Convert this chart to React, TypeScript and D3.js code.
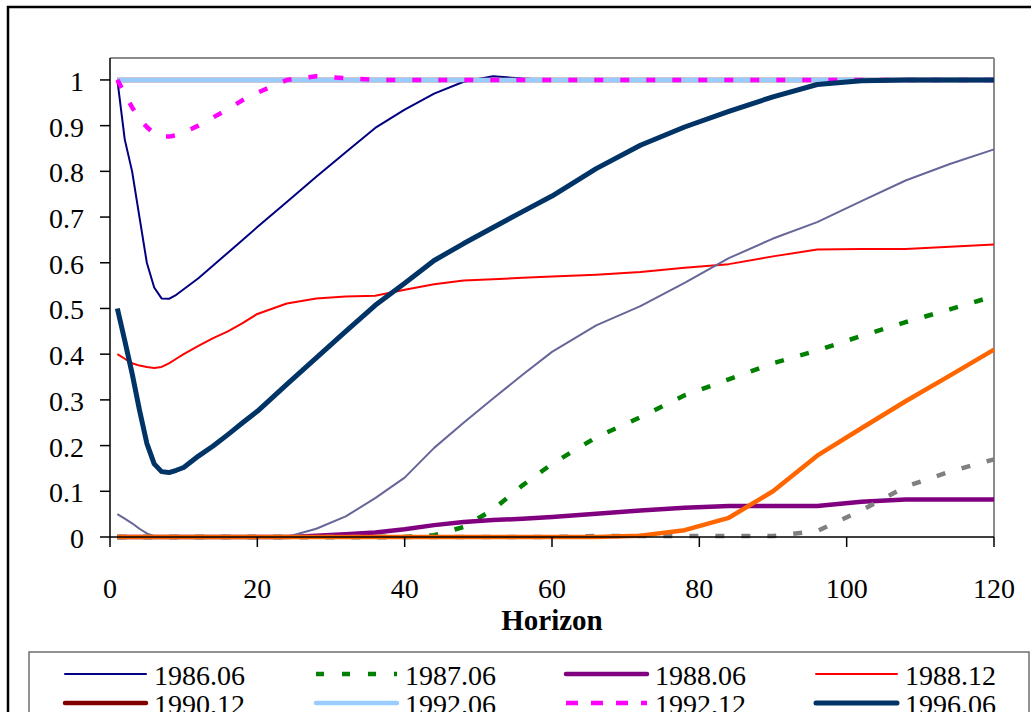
import React from "react";
import * as d3 from "d3";

// Forecast horizons (months) at which each series is sampled
const horizons = [1, 2, 3, 4, 5, 6, 7, 8, 9, 10, 12, 14, 16, 18, 20, 24, 28, 32, 36, 40, 44, 48, 52, 56, 60, 66, 72, 78, 84, 90, 96, 102, 108, 114, 120];

const s198606 = [1.0, 0.87, 0.8, 0.7, 0.6, 0.546, 0.522, 0.521, 0.53, 0.542, 0.566, 0.594, 0.622, 0.65, 0.678, 0.733, 0.788, 0.842, 0.895, 0.935, 0.97, 0.996, 1.008, 1.003, 1, 1, 1, 1, 1, 1, 1, 1, 1, 1, 1];
const s198706 = [0, 0, 0, 0, 0, 0, 0, 0, 0, 0, 0, 0, 0, 0, 0, 0, 0, 0, 0, 0, 0.004, 0.022, 0.06, 0.113, 0.16, 0.218, 0.262, 0.31, 0.345, 0.38, 0.408, 0.44, 0.47, 0.498, 0.527];
const s198806 = [0, 0, 0, 0, 0, 0, 0, 0, 0, 0, 0, 0, 0, 0, 0, 0, 0.003, 0.006, 0.01, 0.017, 0.026, 0.033, 0.037, 0.04, 0.044, 0.051, 0.058, 0.064, 0.068, 0.068, 0.068, 0.077, 0.082, 0.082, 0.082];
const s198812 = [0.4, 0.39, 0.38, 0.375, 0.372, 0.37, 0.372, 0.38, 0.39, 0.4, 0.418, 0.435, 0.45, 0.468, 0.488, 0.511, 0.522, 0.526, 0.528, 0.541, 0.553, 0.561, 0.564, 0.567, 0.57, 0.574, 0.58, 0.589, 0.597, 0.614, 0.629, 0.63, 0.63, 0.635, 0.64];
const s199012 = [1, 1, 1, 1, 1, 1, 1, 1, 1, 1, 1, 1, 1, 1, 1, 1, 1, 1, 1, 1, 1, 1, 1, 1, 1, 1, 1, 1, 1, 1, 1, 1, 1, 1, 1];
const s199206 = [1, 1, 1, 1, 1, 1, 1, 1, 1, 1, 1, 1, 1, 1, 1, 1, 1, 1, 1, 1, 1, 1, 1, 1, 1, 1, 1, 1, 1, 1, 1, 1, 1, 1, 1];
const s199212 = [1.0, 0.97, 0.94, 0.915, 0.897, 0.883, 0.876, 0.876, 0.879, 0.885, 0.9, 0.918, 0.936, 0.956, 0.972, 1.0, 1.008, 1.004, 1.0, 1, 1, 1, 1, 1, 1, 1, 1, 1, 1, 1, 1, 1, 1, 1, 1];
const s199606 = [0.5, 0.43, 0.358, 0.278, 0.205, 0.16, 0.143, 0.141, 0.146, 0.152, 0.177, 0.199, 0.224, 0.25, 0.275, 0.334, 0.392, 0.45, 0.507, 0.555, 0.605, 0.642, 0.677, 0.712, 0.746, 0.806, 0.857, 0.897, 0.931, 0.963, 0.99, 0.998, 1, 1, 1];
const sSlate = [0.05, 0.04, 0.03, 0.018, 0.008, 0.002, 0, 0, 0, 0, 0, 0, 0, 0, 0, 0, 0.018, 0.045, 0.085, 0.13, 0.195, 0.25, 0.303, 0.355, 0.405, 0.463, 0.505, 0.556, 0.61, 0.653, 0.689, 0.735, 0.78, 0.816, 0.848];
const sGrey = [0, 0, 0, 0, 0, 0, 0, 0, 0, 0, 0, 0, 0, 0, 0, 0, 0, 0, 0, 0, 0, 0, 0, 0, 0, 0.002, 0.002, 0.002, 0.002, 0.002, 0.013, 0.058, 0.11, 0.143, 0.17];
const sOrange = [0, 0, 0, 0, 0, 0, 0, 0, 0, 0, 0, 0, 0, 0, 0, 0, 0, 0, 0, 0, 0, 0, 0, 0, 0, 0, 0.003, 0.015, 0.042, 0.1, 0.178, 0.238, 0.297, 0.353, 0.41];

const xTickValues = [0, 20, 40, 60, 80, 100, 120];
const yTickValues = [0, 0.1, 0.2, 0.3, 0.4, 0.5, 0.6, 0.7, 0.8, 0.9, 1];
const yTickLabels = ["0", "0.1", "0.2", "0.3", "0.4", "0.5", "0.6", "0.7", "0.8", "0.9", "1"];

type Series = { name: string; values: number[]; color: string; width: number; dash?: string; legendDash?: string; inLegend: boolean };

const series: Series[] = [
  { name: "1986.06", values: s198606, color: "#000080", width: 2, inLegend: true },
  { name: "1987.06", values: s198706, color: "#008000", width: 4.5, dash: "9,17", legendDash: "8,18", inLegend: true },
  { name: "1988.06", values: s198806, color: "#800080", width: 4.5, inLegend: true },
  { name: "1988.12", values: s198812, color: "#ff0000", width: 2, inLegend: true },
  { name: "1990.12", values: s199012, color: "#800000", width: 4.5, inLegend: true },
  { name: "1992.06", values: s199206, color: "#99ccff", width: 4.5, inLegend: true },
  { name: "1992.12", values: s199212, color: "#ff00ff", width: 4.5, dash: "9,17", legendDash: "12,13", inLegend: true },
  { name: "1996.06", values: s199606, color: "#003366", width: 5, inLegend: true },
  { name: "slate", values: sSlate, color: "#666699", width: 2, inLegend: false },
  { name: "grey", values: sGrey, color: "#808080", width: 4.5, dash: "9,17", inLegend: false },
  { name: "orange", values: sOrange, color: "#ff6600", width: 4.5, inLegend: false },
];

const FONT = "'Liberation Serif', 'Times New Roman', serif";

export default function App() {
  const W = 1031;
  const H = 712;
  const left = 110;
  const right = 994;
  const top = 58;
  const bottom = 537;

  const x = d3.scaleLinear().domain([0, 120]).range([left, right]);
  const y = d3.scaleLinear().domain([0, 1.048]).range([bottom, top]);

  const line = d3
    .line<number>()
    .x((_, i) => x(horizons[i]))
    .y((v) => y(v))
    .curve(d3.curveLinear);

  const legendItems = series.filter((s) => s.inLegend);
  const colX = [65, 316, 566, 816];
  const rowY = [674, 703];

  return (
    <svg width={W} height={H} style={{ position: "absolute", left: 0, top: 0, background: "#fff" }}>
      <rect x={0} y={0} width={W} height={H} fill="#fff" />
      {/* outer chart frame */}
      <rect x={8} y={7} width={1060} height={800} fill="none" stroke="#000" strokeWidth={2.5} />

      {/* plot area border */}
      <line x1={left} y1={top} x2={right} y2={top} stroke="#8c8c8c" strokeWidth={2} />
      <line x1={right} y1={top} x2={right} y2={bottom} stroke="#8c8c8c" strokeWidth={2} />

      {/* series */}
      <g fill="none" strokeLinejoin="round">
        {series.map((s) => (
          <path
            key={s.name}
            d={line(s.values) || ""}
            stroke={s.color}
            strokeWidth={s.width}
            strokeDasharray={s.dash}
          />
        ))}
      </g>

      {/* axes */}
      <line x1={left} y1={top} x2={left} y2={bottom} stroke="#000" strokeWidth={1.5} />
      <line x1={left} y1={bottom} x2={right} y2={bottom} stroke="#000" strokeWidth={1.5} />
      {yTickValues.map((v, i) => (
        <g key={"y" + i}>
          <line x1={left - 10} x2={left} y1={y(v)} y2={y(v)} stroke="#000" strokeWidth={1.5} />
          <text x={84} y={y(v) + 11} textAnchor="end" fontFamily={FONT} fontSize={28} fill="#000">
            {yTickLabels[i]}
          </text>
        </g>
      ))}
      {xTickValues.map((v) => (
        <g key={"x" + v}>
          <line x1={x(v)} x2={x(v)} y1={bottom} y2={bottom + 10} stroke="#000" strokeWidth={1.5} />
          <text x={x(v)} y={598} textAnchor="middle" fontFamily={FONT} fontSize={28} fill="#000">
            {v}
          </text>
        </g>
      ))}
      <text x={552} y={630} textAnchor="middle" fontFamily={FONT} fontSize={29} fontWeight="bold" fill="#000">
        Horizon
      </text>

      {/* legend */}
      <rect x={29} y={652} width={1000} height={120} fill="#fff" stroke="#6e6e6e" strokeWidth={1.5} />
      {legendItems.map((s, i) => {
        const cx = colX[i % 4];
        const cy = rowY[Math.floor(i / 4)];
        return (
          <g key={"lg" + s.name}>
            <line
              x1={cx}
              x2={cx + 81}
              y1={cy}
              y2={cy}
              stroke={s.color}
              strokeWidth={s.width}
              strokeDasharray={s.legendDash}
              strokeLinecap={s.legendDash ? "butt" : "round"}
            />
            <text x={cx + 89} y={cy + 11} fontFamily={FONT} fontSize={28} fill="#000">
              {s.name}
            </text>
          </g>
        );
      })}
    </svg>
  );
}
